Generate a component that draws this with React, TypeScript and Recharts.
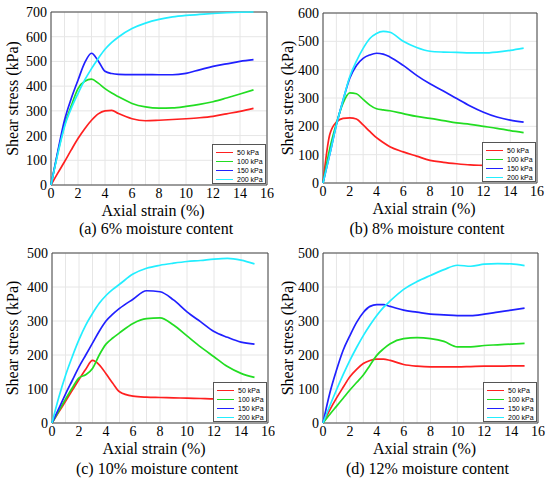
import React from "react";
import { LineChart, Line, XAxis, YAxis, CartesianGrid, ReferenceArea, Legend } from "recharts";

// axial strain (%) sampled for every curve
const strain = [0, 0.5, 1, 1.5, 2, 2.5, 3, 3.5, 4, 4.5, 5, 6, 7, 8, 9, 10, 11, 12, 13, 14, 15];
const pressures = ["50 kPa", "100 kPa", "150 kPa", "200 kPa"];
const xTicks = [0, 2, 4, 6, 8, 10, 12, 14, 16];

// (a) 6% moisture content
const a50 = [0, 48, 94, 142, 188, 228, 262, 288, 300, 302, 289, 268, 260, 262, 265, 268, 272, 278, 288, 298, 310];
const a100 = [0, 130, 242, 320, 390, 420, 428, 412, 390, 372, 357, 330, 316, 311, 312, 318, 326, 337, 352, 368, 385];
const a150 = [0, 135, 262, 350, 424, 495, 533, 502, 460, 451, 448, 447, 447, 446, 446, 452, 466, 480, 490, 500, 507];
const a200 = [0, 125, 236, 310, 370, 425, 471, 512, 549, 577, 599, 633, 655, 670, 680, 686, 690, 694, 697, 699, 700];

// (b) 8% moisture content
const b50 = [0, 170, 215, 228, 230, 226, 205, 182, 160, 143, 128, 110, 95, 80, 73, 68, 64, 62, 60, 58, 57];
const b100 = [0, 120, 210, 282, 318, 315, 295, 275, 262, 258, 255, 245, 235, 228, 220, 212, 207, 200, 193, 185, 178];
const b150 = [0, 100, 205, 292, 370, 415, 440, 452, 458, 455, 445, 415, 380, 350, 325, 298, 272, 250, 233, 222, 215];
const b200 = [0, 100, 205, 292, 375, 430, 475, 510, 528, 535, 532, 500, 478, 465, 462, 461, 459, 459, 462, 468, 476];

// (c) 10% moisture content
const c50 = [0, 32, 64, 96, 128, 158, 184, 171, 145, 117, 92, 79, 76, 75, 74, 73, 72, 71, 71, 70, 70];
const c100 = [0, 35, 70, 103, 133, 142, 160, 200, 232, 250, 265, 293, 307, 309, 288, 256, 224, 195, 166, 146, 134];
const c150 = [0, 42, 85, 125, 165, 200, 235, 270, 300, 320, 337, 364, 389, 386, 362, 327, 298, 269, 252, 238, 232];
const c200 = [0, 75, 140, 195, 245, 288, 322, 352, 375, 393, 408, 438, 455, 464, 470, 475, 478, 482, 484, 479, 468];

// (d) 12% moisture content
const d50 = [0, 38, 73, 105, 136, 158, 175, 184, 188, 188, 184, 172, 167, 165, 165, 165, 166, 167, 167, 168, 168];
const d100 = [0, 25, 49, 73, 97, 119, 141, 170, 199, 218, 233, 248, 251, 248, 240, 224, 224, 228, 230, 232, 234];
const d150 = [0, 87, 155, 214, 257, 296, 325, 343, 348, 348, 343, 332, 326, 320, 318, 316, 316, 320, 326, 332, 338];
const d200 = [0, 50, 97, 142, 184, 222, 257, 288, 316, 340, 359, 393, 416, 434, 451, 464, 461, 467, 469, 468, 463];

const COLORS = ["#ff2020", "#22dd22", "#2020ff", "#22eeff"];
const SERIF = "Liberation Serif";

const buildRows = (series: number[][]) =>
  strain.map((x, i) => ({ x, s0: series[0][i], s1: series[1][i], s2: series[2][i], s3: series[3][i] }));

const panels = [
  { caption: "(a) 6% moisture content", series: [a50, a100, a150, a200], yMax: 700, left: 0, top: 0, yw: 51, mTop: 12, mRight: 8, plotH: 173 },
  { caption: "(b) 8% moisture content", series: [b50, b100, b150, b200], yMax: 600, left: 275, top: 0, yw: 48, mTop: 13, mRight: 13, plotH: 170 },
  { caption: "(c) 10% moisture content", series: [c50, c100, c150, c200], yMax: 500, left: 0, top: 240, yw: 52, mTop: 13, mRight: 7, plotH: 170 },
  { caption: "(d) 12% moisture content", series: [d50, d100, d150, d200], yMax: 500, left: 275, top: 240, yw: 48, mTop: 13, mRight: 12, plotH: 170 },
];

const LegendBox = () => (
  <div
    style={{
      width: 54,
      height: 40,
      boxSizing: "border-box",
      border: "1px solid #555",
      background: "#fff",
      paddingTop: 3,
      paddingLeft: 3,
      fontFamily: "'Liberation Sans', Arial, sans-serif",
      fontSize: 7,
      color: "#000",
      whiteSpace: "nowrap",
    }}
  >
    {pressures.map((p, i) => (
      <div key={p} style={{ display: "flex", alignItems: "center", height: 9 }}>
        <span style={{ display: "inline-block", flex: "none", width: 17, borderTop: `1.5px solid ${COLORS[i]}`, marginRight: 4 }} />
        <span style={{ lineHeight: "9px", flex: "none" }}>{p}</span>
      </div>
    ))}
  </div>
);

const Panel = ({ p }: { p: any }) => {
  const rows = buildRows(p.series);
  const height = p.mTop + p.plotH + 45;
  const plotRight = 275 - p.mRight;
  const plotBottom = p.mTop + p.plotH;
  const plotCenter = (p.yw + plotRight) / 2;
  const yTicks = Array.from({ length: p.yMax / 100 + 1 }, (_, i) => i * 100);
  const yGrid = Array.from({ length: p.yMax / 50 + 1 }, (_, i) => i * 50);
  const xGrid = Array.from({ length: 17 }, (_, i) => i);

  return (
    <div style={{ position: "absolute", left: p.left, top: p.top, width: 275, height: 245 }}>
      <LineChart width={275} height={height} data={rows} margin={{ top: p.mTop, right: p.mRight, left: 0, bottom: 0 }}>
        <CartesianGrid stroke="#e6e6e6" horizontalValues={yGrid} verticalValues={xGrid} />
        <XAxis
          type="number"
          dataKey="x"
          domain={[0, 16]}
          ticks={xTicks}
          height={45}
          axisLine={false}
          tickLine={false}
          tickSize={3}
          tickMargin={0}
          tick={{ fill: "#000", fontSize: 14, fontFamily: SERIF }}
          label={{
            value: "Axial strain (%)",
            position: "insideBottom",
            offset: 14,
            dx: -6,
            fill: "#000",
            fontSize: 16,
            style: { fontFamily: SERIF, textAnchor: "middle" },
          }}
        />
        <YAxis
          type="number"
          domain={[0, p.yMax]}
          ticks={yTicks}
          width={p.yw}
          axisLine={false}
          tickLine={false}
          tickSize={3}
          tickMargin={1}
          tick={{ fill: "#000", fontSize: 14, fontFamily: SERIF }}
          label={{
            value: "Shear stress (kPa)",
            angle: -90,
            position: "insideLeft",
            offset: 12,
            fill: "#000",
            fontSize: 16,
            style: { textAnchor: "middle", fontFamily: SERIF },
          }}
        />
        <ReferenceArea x1={0} x2={16} y1={0} y2={p.yMax} fill="none" stroke="#444" strokeWidth={1} />
        {pressures.map((name, i) => (
          <Line
            key={name}
            name={name}
            dataKey={`s${i}`}
            type="monotone"
            stroke={COLORS[i]}
            strokeWidth={1.7}
            dot={false}
            isAnimationActive={false}
          />
        ))}
        <Legend
          layout="vertical"
          align="center"
          verticalAlign="middle"
          wrapperStyle={{ left: plotRight - 55, top: plotBottom - 41, width: 54, height: 40 }}
          content={() => <LegendBox />}
        />
      </LineChart>
      <div
        style={{
          position: "absolute",
          left: plotCenter - 3 - 110,
          width: 220,
          top: 220,
          height: 17,
          lineHeight: "17px",
          textAlign: "center",
          fontFamily: SERIF,
          fontSize: 16,
          color: "#000",
        }}
      >
        {p.caption}
      </div>
    </div>
  );
};

export default function App() {
  return (
    <div style={{ position: "absolute", left: 0, top: 0, width: 550, height: 485, background: "#fff", overflow: "hidden" }}>
      {panels.map((p) => (
        <Panel key={p.caption} p={p} />
      ))}
    </div>
  );
}
